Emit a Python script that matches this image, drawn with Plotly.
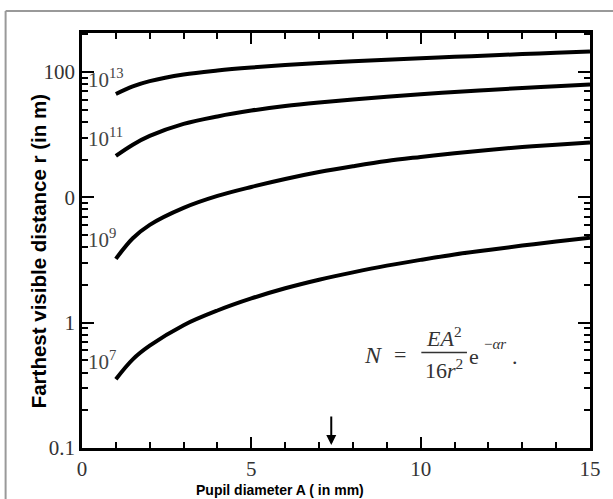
import plotly.graph_objects as go

# Pupil diameter A (mm) at which the farthest visible distance was read
pupil_mm = [1, 1.5, 2, 3, 4, 5, 6, 7, 8, 9, 10, 11, 12, 13, 14, 15]

# Farthest visible distance r (m) for each source photon output N
r_n1e13 = [66.7, 76.7, 84.5, 95.5, 102.8, 108.6, 113.5, 117.8, 121.6, 125.3,
           128.8, 132.1, 135.5, 139.0, 142.2, 145.9]
r_n1e11 = [21.4, 26.3, 30.9, 38.5, 44.2, 49.2, 53.5, 57.1, 60.4, 63.5,
           66.5, 69.3, 71.9, 74.5, 77.1, 79.6]
r_n1e9 = [3.23, 4.71, 6.03, 8.24, 10.26, 12.1, 14.0, 15.9, 17.7, 19.5,
          21.0, 22.5, 23.9, 25.2, 26.3, 27.4]
r_n1e7 = [0.354, 0.51, 0.655, 0.955, 1.25, 1.56, 1.88, 2.2, 2.52, 2.85,
          3.17, 3.5, 3.8, 4.12, 4.44, 4.75]

series = [r_n1e13, r_n1e11, r_n1e9, r_n1e7]
series_labels = ["10<sup>13</sup>", "10<sup>11</sup>", "10<sup>9</sup>", "10<sup>7</sup>"]
label_pos_y = [78, 137, 238, 360]   # pixel rows of the curve labels

x_tickvals = [0, 5, 10, 15]
y_tickvals = [0.1, 1, 10, 100]
y_ticktext = ["0.1", "1", "0", "100"]
y_minor = [m * 10 ** e for e in range(-1, 3) for m in range(2, 10)]
marked_pupil = 7.36

# plot-area geometry in pixels
W, H = 613, 499
L, R, T, B = 82, 594, 33, 448


def px(x):
    return (x - L) / (R - L)


def py(y):
    return (B - y) / (B - T)


SERIF = "Liberation Serif, Times New Roman, serif"
SANS = "Liberation Sans, Arial, sans-serif"

fig = go.Figure()
for vals in series:
    fig.add_trace(go.Scatter(
        x=pupil_mm, y=vals, mode="lines",
        line=dict(color="black", width=4, shape="spline", smoothing=1.0),
        hoverinfo="skip"))


def note(text, x, y, size, family=SERIF, color="#333", xanchor="center", **kw):
    return dict(text=text, x=px(x), y=py(y), xref="paper", yref="paper",
                xanchor=xanchor, yanchor="middle", showarrow=False,
                font=dict(family=family, size=size, color=color), **kw)


annotations = []
for text, yy in zip(series_labels, label_pos_y):
    annotations.append(note(text, 86, yy, 21, color="#444", xanchor="left"))

# formula N = E A^2 / (16 r^2) e^(-alpha r).
annotations += [
    note("<i>N</i>", 376, 355, 24),
    note("=", 403, 354, 22),
    note("<i>EA</i><sup>2</sup>", 447, 337, 22),
    note("16<i>r</i><sup>2</sup>", 447, 369, 22),
    note("e", 477, 356, 22),
    note("−<i>αr</i>", 498, 344, 15),
    note(".", 518, 356, 22),
]

# arrow marking the pupil diameter on the x axis
annotations.append(dict(
    x=marked_pupil, y=py(445), xref="x", yref="paper", text="",
    showarrow=True, arrowhead=2, arrowsize=1, arrowwidth=2, arrowcolor="black",
    ax=0, ay=-30))

# axis titles
annotations.append(note("<b>Pupil diameter A ( in mm)</b>", 282, 490, 14,
                        family=SANS, color="black"))
annotations.append(note("<b>Farthest visible distance r (in m)</b>", 38, 251, 20.5,
                        family=SANS, color="black", textangle=-90))

shapes = [
    # fraction bar of the formula
    dict(type="line", xref="paper", yref="paper",
         x0=px(424), x1=px(470), y0=py(352.5), y1=py(352.5),
         line=dict(color="#333", width=1.5)),
    # grey frame lines (top and left) around the figure
    dict(type="line", xref="paper", yref="paper",
         x0=px(5), x1=px(640), y0=py(11), y1=py(11),
         line=dict(color="#999", width=2), layer="below"),
    dict(type="line", xref="paper", yref="paper",
         x0=px(5), x1=px(5), y0=py(11), y1=py(520),
         line=dict(color="#999", width=2), layer="below"),
]

fig.update_layout(
    width=W, height=H,
    margin=dict(l=L, r=W - R, t=T, b=H - B),
    plot_bgcolor="white", paper_bgcolor="white",
    showlegend=False,
    annotations=annotations, shapes=shapes,
)

fig.update_xaxes(
    range=[0, 15], tickvals=x_tickvals, ticks="inside", ticklen=11, tickwidth=2,
    tickcolor="black", showline=True, linewidth=2.5, linecolor="black",
    mirror="ticks", showgrid=False, zeroline=False,
    tickfont=dict(family=SERIF, size=21, color="#333"),
    minor=dict(dtick=1, tick0=0, ticks="inside", ticklen=6, tickwidth=2,
               tickcolor="black", showgrid=False),
)
fig.update_yaxes(
    type="log", range=[-1, 2.311], tickvals=y_tickvals, ticktext=y_ticktext,
    ticks="inside", ticklen=12, tickwidth=2, tickcolor="black",
    showline=True, linewidth=2.5, linecolor="black", mirror="ticks",
    showgrid=False, zeroline=False,
    tickfont=dict(family=SERIF, size=21, color="#333"),
    minor=dict(tickvals=y_minor, ticks="inside", ticklen=6, tickwidth=2,
               tickcolor="black", showgrid=False),
)

fig.write_html("out.html")
